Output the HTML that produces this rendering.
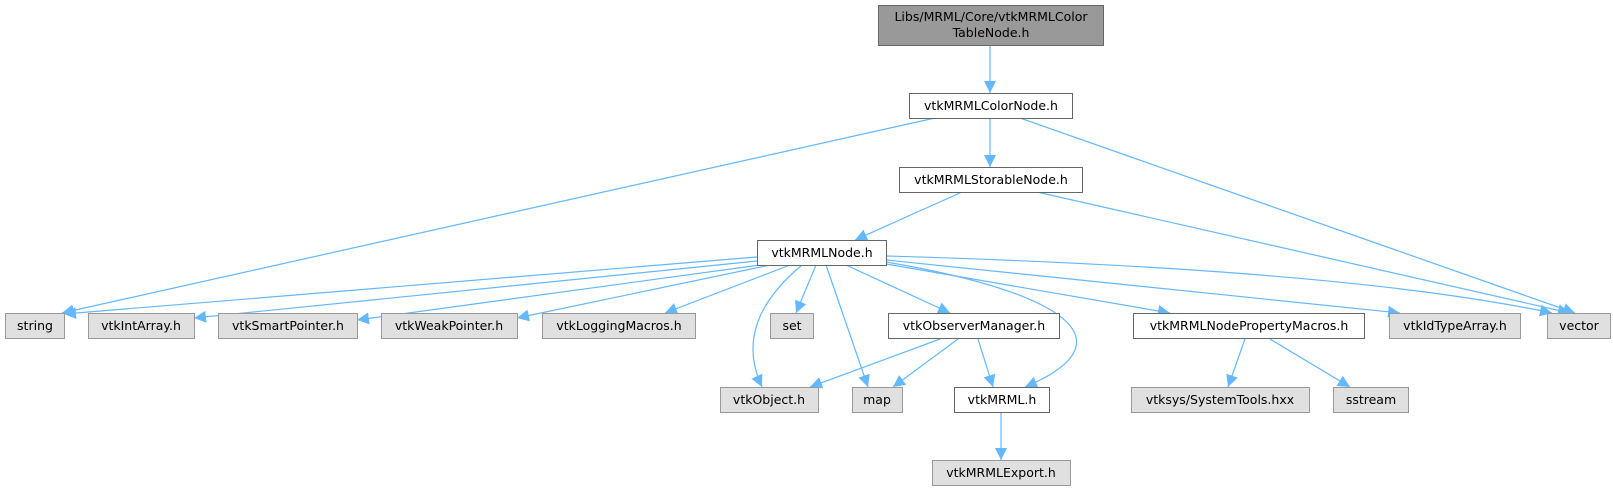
<!DOCTYPE html>
<html><head><meta charset="utf-8"><style>
html,body{margin:0;padding:0;background:#fff;}
svg text{font-family:"DejaVu Sans","Liberation Sans",sans-serif;font-size:12.5px;fill:#000;text-anchor:middle;}
</style></head><body>
<svg width="1613" height="491" viewBox="0 0 1613 491" xmlns="http://www.w3.org/2000/svg">
<defs>
<marker id="a" markerUnits="userSpaceOnUse" markerWidth="13" markerHeight="12" refX="12" refY="6" orient="auto">
<path d="M0,0 L12,6 L0,12 z" fill="#63b8ff"/>
</marker>
</defs>
<g stroke="#63b8ff" stroke-width="1.2" fill="none" marker-end="url(#a)">
<path d="M990,45 L990,93"/>
<path d="M990,118 L990,167"/>
<path d="M935,118 L62,313"/>
<path d="M1020,118 L1575,313"/>
<path d="M962,192 L855,240"/>
<path d="M1037,192 L1570,313"/>
<path d="M757,257 L64,314"/>
<path d="M757,261 L194,318"/>
<path d="M760,265 L357,320"/>
<path d="M770,265 L517,318"/>
<path d="M790,265 L665,313"/>
<path d="M816,265 L796,313"/>
<path d="M802,265 C760,300 740,340 762,387"/>
<path d="M826,265 L868,387"/>
<path d="M846,265 L950,313"/>
<path d="M886,262 C1080,295 1125,345 1025,387"/>
<path d="M886,264 L1170,313"/>
<path d="M886,260 L1400,313"/>
<path d="M886,256 C1200,265 1420,285 1552,313"/>
<path d="M940,339 L810,387"/>
<path d="M958,339 L893,387"/>
<path d="M978,339 L993,387"/>
<path d="M1001,412 L1001,460"/>
<path d="M1245,339 L1228,387"/>
<path d="M1270,339 L1350,387"/>
</g>
<g stroke-width="1">
<rect x="878.5" y="5.5" width="225" height="40" fill="#999" stroke="#666"/>
<rect x="909.5" y="93.5" width="163" height="25" fill="#fff" stroke="#666"/>
<rect x="899.5" y="167.5" width="183" height="25" fill="#fff" stroke="#666"/>
<rect x="757.5" y="240.5" width="129" height="25" fill="#fff" stroke="#666"/>
<rect x="5.5" y="313.5" width="59" height="25" fill="#e0e0e0" stroke="#999"/>
<rect x="88.5" y="313.5" width="106" height="25" fill="#e0e0e0" stroke="#999"/>
<rect x="218.5" y="313.5" width="139" height="25" fill="#e0e0e0" stroke="#999"/>
<rect x="381.5" y="313.5" width="136" height="25" fill="#e0e0e0" stroke="#999"/>
<rect x="542.5" y="313.5" width="153" height="25" fill="#e0e0e0" stroke="#999"/>
<rect x="770.5" y="313.5" width="43" height="25" fill="#e0e0e0" stroke="#999"/>
<rect x="888.5" y="313.5" width="171" height="25" fill="#fff" stroke="#666"/>
<rect x="1133.5" y="313.5" width="231" height="25" fill="#fff" stroke="#666"/>
<rect x="1389.5" y="313.5" width="131" height="25" fill="#e0e0e0" stroke="#999"/>
<rect x="1547.5" y="313.5" width="63" height="25" fill="#e0e0e0" stroke="#999"/>
<rect x="720.5" y="387.5" width="98" height="25" fill="#e0e0e0" stroke="#999"/>
<rect x="852.5" y="387.5" width="50" height="25" fill="#e0e0e0" stroke="#999"/>
<rect x="954.5" y="387.5" width="95" height="25" fill="#fff" stroke="#666"/>
<rect x="1131.5" y="387.5" width="178" height="25" fill="#e0e0e0" stroke="#999"/>
<rect x="1333.5" y="387.5" width="75" height="25" fill="#e0e0e0" stroke="#999"/>
<rect x="932.5" y="460.5" width="138" height="25" fill="#e0e0e0" stroke="#999"/>
</g>
<text x="991" y="21">Libs/MRML/Core/vtkMRMLColor</text>
<text x="991" y="37">TableNode.h</text>
<text x="991" y="110">vtkMRMLColorNode.h</text>
<text x="991" y="184">vtkMRMLStorableNode.h</text>
<text x="822" y="257">vtkMRMLNode.h</text>
<text x="35" y="330">string</text>
<text x="141" y="330">vtkIntArray.h</text>
<text x="288" y="330">vtkSmartPointer.h</text>
<text x="449" y="330">vtkWeakPointer.h</text>
<text x="619" y="330">vtkLoggingMacros.h</text>
<text x="792" y="330">set</text>
<text x="974" y="330">vtkObserverManager.h</text>
<text x="1249" y="330">vtkMRMLNodePropertyMacros.h</text>
<text x="1455" y="330">vtkIdTypeArray.h</text>
<text x="1579" y="330">vector</text>
<text x="769" y="404">vtkObject.h</text>
<text x="877" y="404">map</text>
<text x="1002" y="404">vtkMRML.h</text>
<text x="1220" y="404">vtksys/SystemTools.hxx</text>
<text x="1371" y="404">sstream</text>
<text x="1001" y="477">vtkMRMLExport.h</text>
</svg>
</body></html>
